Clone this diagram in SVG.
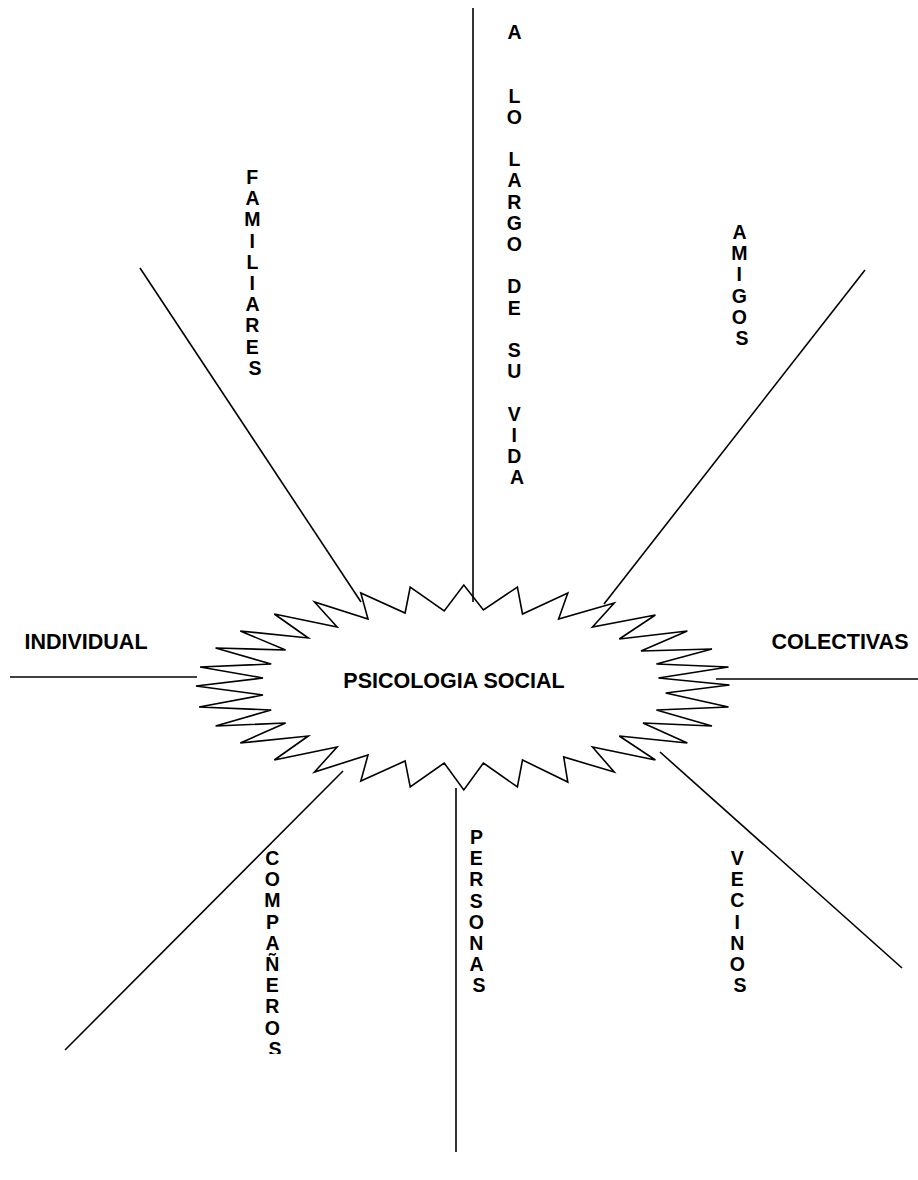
<svg xmlns="http://www.w3.org/2000/svg" width="918" height="1180" viewBox="0 0 918 1180">
<style>
.ln{stroke:#000;stroke-width:1.6;fill:none}
.t{font-family:"Liberation Sans",Arial,sans-serif;font-weight:bold;font-size:21.5px;fill:#000;text-anchor:middle}
.v{font-family:"Liberation Sans",Arial,sans-serif;font-weight:bold;font-size:19.5px;fill:#000;text-anchor:middle}
</style>
<defs>
<clipPath id="cut"><rect x="0" y="0" width="918" height="1054"/></clipPath>
</defs>
<rect width="918" height="1180" fill="#fff"/>
<g id="connectors">
<line class="ln" x1="473" y1="8" x2="473" y2="602"/>
<line class="ln" x1="140" y1="268" x2="361" y2="602"/>
<line class="ln" x1="865" y1="270" x2="604" y2="604"/>
<line class="ln" x1="10" y1="677" x2="197" y2="677"/>
<line class="ln" x1="716" y1="679" x2="918" y2="679"/>
<line class="ln" x1="65" y1="1050" x2="343" y2="771"/>
<line class="ln" x1="456" y1="788" x2="456" y2="1152"/>
<line class="ln" x1="660" y1="752" x2="902" y2="968"/>
</g>
<g id="center">
<polygon class="ln" points="463.8,585 483.4,610 517.4,587 522.5,614 567.8,593 558.6,619 614.2,603 592.5,627 655.4,615 619.3,639 687.3,631 641,651 712,649 656.4,664 728.5,667 658.5,678 729.5,685 665.7,693 728.5,707 656.4,710 712,726 643,723 687.3,743 619.3,736 655.4,760 592.5,747 614.2,772 563.7,757 567.8,782 522.5,760 517.4,787 483.4,763 463.8,790 444.2,763 410.2,787 405.1,761 360.8,781 368,755 314.5,772 337.1,747 274.3,760 308.3,736 240.3,743 285.6,723 215.6,726 271.2,710 199.1,707 263,695 196,686 263,678 200.1,667 271.2,664 215.6,648 285.6,650 240.3,631 308.3,638 274.3,614 337.1,627 314.5,602 368,619 360.8,593 405.1,613 410.2,587 444.2,611"/>
<text class="t" x="454" y="688">PSICOLOGIA SOCIAL</text>
</g>
<g id="vida">
<text class="v">
<tspan x="517" y="39">A</tspan>
<tspan x="517" y="102.6">L</tspan>
<tspan x="517" y="123.8">O</tspan>
<tspan x="517" y="166.2">L</tspan>
<tspan x="517" y="187.4">A</tspan>
<tspan x="517" y="208.6">R</tspan>
<tspan x="517" y="229.8">G</tspan>
<tspan x="517" y="251">O</tspan>
<tspan x="517" y="293.4">D</tspan>
<tspan x="517" y="314.6">E</tspan>
<tspan x="517" y="357">S</tspan>
<tspan x="517" y="378.2">U</tspan>
<tspan x="517" y="420.6">V</tspan>
<tspan x="517" y="441.8">I</tspan>
<tspan x="517" y="463">D</tspan>
<tspan x="517" y="484.2">A</tspan>
</text>
</g>
<g id="familiares">
<text class="v">
<tspan x="255" y="184">F</tspan>
<tspan x="255" y="205.2">A</tspan>
<tspan x="255" y="226.4">M</tspan>
<tspan x="255" y="247.6">I</tspan>
<tspan x="255" y="268.8">L</tspan>
<tspan x="255" y="290">I</tspan>
<tspan x="255" y="311.2">A</tspan>
<tspan x="255" y="332.4">R</tspan>
<tspan x="255" y="353.6">E</tspan>
<tspan x="255" y="374.8">S</tspan>
</text>
</g>
<g id="amigos">
<text class="v">
<tspan x="742" y="239">A</tspan>
<tspan x="742" y="260.2">M</tspan>
<tspan x="742" y="281.4">I</tspan>
<tspan x="742" y="302.6">G</tspan>
<tspan x="742" y="323.8">O</tspan>
<tspan x="742" y="345">S</tspan>
</text>
</g>
<g id="individual">
<text class="t" x="86" y="649">INDIVIDUAL</text>
</g>
<g id="colectivas">
<text class="t" x="840" y="649">COLECTIVAS</text>
</g>
<g id="companeros">
<text class="v" clip-path="url(#cut)">
<tspan x="275" y="865">C</tspan>
<tspan x="275" y="886.2">O</tspan>
<tspan x="275" y="907.4">M</tspan>
<tspan x="275" y="928.6">P</tspan>
<tspan x="275" y="949.8">A</tspan>
<tspan x="275" y="971">Ñ</tspan>
<tspan x="275" y="992.2">E</tspan>
<tspan x="275" y="1013.4">R</tspan>
<tspan x="275" y="1034.6">O</tspan>
<tspan x="275" y="1055.8">S</tspan>
</text>
</g>
<g id="personas">
<text class="v">
<tspan x="479" y="844">P</tspan>
<tspan x="479" y="865.2">E</tspan>
<tspan x="479" y="886.4">R</tspan>
<tspan x="479" y="907.6">S</tspan>
<tspan x="479" y="928.8">O</tspan>
<tspan x="479" y="950">N</tspan>
<tspan x="479" y="971.2">A</tspan>
<tspan x="479" y="992.4">S</tspan>
</text>
</g>
<g id="vecinos">
<text class="v">
<tspan x="740" y="865">V</tspan>
<tspan x="740" y="886.2">E</tspan>
<tspan x="740" y="907.4">C</tspan>
<tspan x="740" y="928.6">I</tspan>
<tspan x="740" y="949.8">N</tspan>
<tspan x="740" y="971">O</tspan>
<tspan x="740" y="992.2">S</tspan>
</text>
</g>
</svg>
